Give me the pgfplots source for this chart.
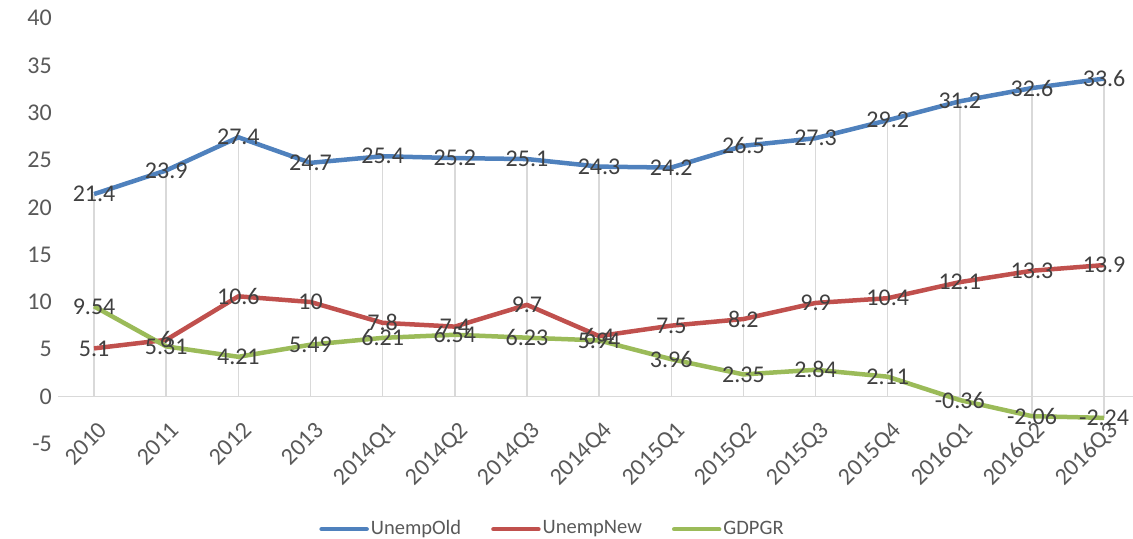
\documentclass[border=0pt]{standalone}
\usepackage{fontspec}
\setmainfont{Carlito}
\usepackage{pgfplots}
\pgfplotsset{compat=1.18}
\definecolor{cOld}{HTML}{4F81BD}
\definecolor{cNew}{HTML}{C0504D}
\definecolor{cGdp}{HTML}{9BBB59}
\definecolor{tk}{HTML}{595959}
\definecolor{lb}{HTML}{404040}
\definecolor{gr}{HTML}{D9D9D9}
\begin{document}
\fontsize{24bp}{28bp}\selectfont
\begin{tikzpicture}
\path[use as bounding box] (0,0) rectangle (1133bp,539bp);
\begin{axis}[
  at={(58bp,95bp)}, anchor=south west,
  scale only axis, width=1075bp, height=426bp,
  xmin=-0.5, xmax=14.4, ymin=-5, ymax=40,
  clip=false,
  axis line style={draw=none},
  major tick length=0pt,
  xtick={0,...,14},
  xticklabels={2010,2011,2012,2013,2014Q1,2014Q2,2014Q3,2014Q4,2015Q1,2015Q2,2015Q3,2015Q4,2016Q1,2016Q2,2016Q3},
  ytick={-5,0,5,10,15,20,25,30,35,40},
  yticklabels={-5,0,5,10,15,20,25,30,35,40},
  /pgf/number format/assume math mode=true,
  tick label style={font=\fontsize{24bp}{28bp}\selectfont, text=tk},
  xticklabel style={xshift=9bp, yshift=18bp, rotate=45, anchor=east, inner sep=0pt, text depth=0pt},
  yticklabel style={anchor=east, xshift=-6bp, inner sep=0pt},
  extra y ticks={0}, extra y tick labels={},
  extra y tick style={grid=major, major grid style={draw=gr, line width=1.5bp}},
  legend columns=3,
  legend style={draw=none, fill=none, at={(0.46,-0.20)}, anchor=center,
    font=\fontsize{20.5bp}{24bp}\selectfont, text=tk,
    /tikz/every even column/.append style={column sep=28bp}},
  legend image code/.code={\draw[#1, line width=4.5bp, line cap=round] (0bp,0bp) -- (45bp,0bp);},
  nodes near coords, point meta=explicit symbolic,
  every node near coord/.append style={anchor=center, text=lb, font=\fontsize{24bp}{28bp}\selectfont, inner sep=0pt},
]
% drop lines
\addplot[ycomb, draw=gr, line width=1.5bp, forget plot, nodes near coords={}] coordinates {
(0,21.4)(1,23.9)(2,27.4)(3,24.7)(4,25.4)(5,25.2)(6,25.1)(7,24.3)(8,24.2)(9,26.5)(10,27.3)(11,29.2)(12,31.2)(13,32.6)(14,33.6)};
\addplot[ycomb, draw=gr, line width=1.5bp, forget plot, nodes near coords={}] coordinates {
(0,9.54)(1,5.31)(2,4.21)(3,5.49)(4,6.21)(5,6.54)(6,6.23)(7,5.94)(8,3.96)(9,2.35)(10,2.84)(11,2.11)(12,-0.36)(13,-2.06)(14,-2.24)};
\addplot[cOld, line width=4.5bp, line join=round, mark=none] coordinates {
(0,21.4)[21.4] (1,23.9)[23.9] (2,27.4)[27.4] (3,24.7)[24.7] (4,25.4)[25.4] (5,25.2)[25.2] (6,25.1)[25.1] (7,24.3)[24.3] (8,24.2)[24.2] (9,26.5)[26.5] (10,27.3)[27.3] (11,29.2)[29.2] (12,31.2)[31.2] (13,32.6)[32.6] (14,33.6)[33.6]};
\addlegendentry{UnempOld}
\addplot[cNew, line width=4.5bp, line join=round, mark=none] coordinates {
(0,5.1)[5.1] (1,6)[6] (2,10.6)[10.6] (3,10)[10] (4,7.8)[7.8] (5,7.4)[7.4] (6,9.7)[9.7] (7,6.4)[6.4] (8,7.5)[7.5] (9,8.2)[8.2] (10,9.9)[9.9] (11,10.4)[10.4] (12,12.1)[12.1] (13,13.3)[13.3] (14,13.9)[13.9]};
\addlegendentry{UnempNew}
\addplot[cGdp, line width=4.5bp, line join=round, mark=none] coordinates {
(0,9.54)[9.54] (1,5.31)[5.31] (2,4.21)[4.21] (3,5.49)[5.49] (4,6.21)[6.21] (5,6.54)[6.54] (6,6.23)[6.23] (7,5.94)[5.94] (8,3.96)[3.96] (9,2.35)[2.35] (10,2.84)[2.84] (11,2.11)[2.11] (12,-0.36)[-0.36] (13,-2.06)[-2.06] (14,-2.24)[-2.24]};
\addlegendentry{GDPGR}
\end{axis}
\end{tikzpicture}
\end{document}
